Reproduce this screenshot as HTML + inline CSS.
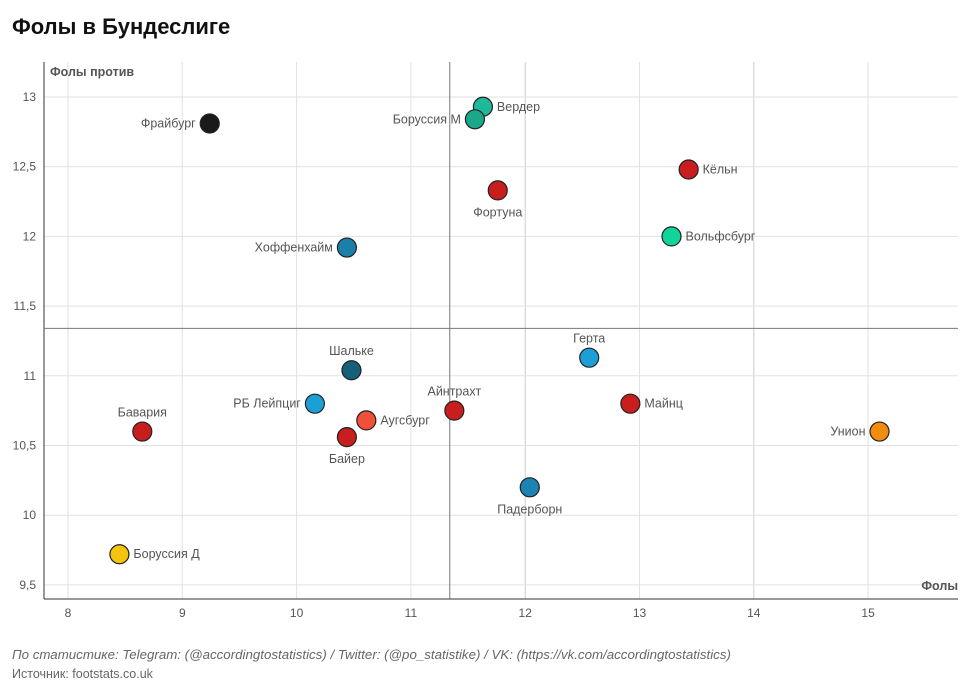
<!DOCTYPE html>
<html><head><meta charset="utf-8"><style>
body{margin:0;background:#fff;font-family:"Liberation Sans","Noto Sans CJK SC",sans-serif;}
#wrap{position:relative;width:980px;height:689px;overflow:hidden}
h1{position:absolute;left:12px;top:14px;margin:0;font-size:22px;font-weight:bold;color:#111}
.foot{position:absolute;left:12px;font-size:13.3px;color:#666}
</style></head><body>
<div id="wrap">
<h1>Фолы в Бундеслиге</h1>
<svg id="chart" width="980" height="689" style="position:absolute;left:0;top:0"></svg>
<div class="foot" style="top:647px;font-style:italic">По статистике: Telegram: (@accordingtostatistics) / Twitter: (@po_statistike) / VK: (https://vk.com/accordingtostatistics)</div>
<div class="foot" style="top:667px;font-size:12.5px">Источник: footstats.co.uk</div>
</div>
<script>
const teams=["Фрайбург","Вердер","Боруссия М","Кёльн","Фортуна","Вольфсбург","Хоффенхайм","Шальке","Герта","Бавария","РБ Лейпциг","Аугсбург","Байер","Айнтрахт","Майнц","Унион","Падерборн","Боруссия Д"];
const fouls=[9.24,11.63,11.56,13.43,11.76,13.28,10.44,10.48,12.56,8.65,10.16,10.61,10.44,11.38,12.92,15.1,12.04,8.45];
const against=[12.81,12.93,12.84,12.48,12.33,12.0,11.92,11.04,11.13,10.6,10.8,10.68,10.56,10.75,10.8,10.6,10.2,9.72];
const colors=["#1a1a1a","#1fb89a","#1aa88a","#c81e1e","#c81e1e","#12d39a","#1b7fa8","#16607a","#1c9fd6","#c81e1e","#1c9fd6","#f0503a","#c81e1e","#c81e1e","#c81e1e","#f28c0f","#1b84b4","#f5c40c"];
const labelPos=["l","r","l","r","b","r","l","t","t","t","l","r","b","t","r","l","b","r"];
const xTicks=[8,9,10,11,12,13,14,15];
const yTicks=[9.5,10,10.5,11,11.5,12,12.5,13];
const meanX=11.34, meanY=11.34;
const L=44,R=958,T=62,B=599;
const X=v=>68+(v-8)*114.3;
const Y=v=>97+(13-v)*139.4;
const svg=document.getElementById('chart');
const NS="http://www.w3.org/2000/svg";
function mk(t,a){const e=document.createElementNS(NS,t);for(const k in a)e.setAttribute(k,a[k]);svg.appendChild(e);return e;}
xTicks.forEach(t=>{const g=mk('line',{x1:X(t),x2:X(t),y1:T,y2:B,stroke:t==12||t==14?'#ccc':'#e2e2e2'});

const tx=mk('text',{x:X(t),y:B+18,'text-anchor':'middle','font-size':12,fill:'#555'});tx.textContent=t;
});
yTicks.forEach(t=>{const g=mk('line',{x1:L,x2:R,y1:Y(t),y2:Y(t),stroke:'#e2e2e2'});

const tx=mk('text',{x:36,y:Y(t)+4,'text-anchor':'end','font-size':12,fill:'#555'});tx.textContent=String(t).replace('.',',');
});
let ax=mk('line',{x1:L,x2:L,y1:T,y2:B,stroke:'#333'});
ax=mk('line',{x1:L,x2:R,y1:B,y2:B,stroke:'#333'});
let m=mk('line',{x1:X(meanX),x2:X(meanX),y1:T,y2:B,stroke:'#777'});
m=mk('line',{x1:L,x2:R,y1:Y(meanY),y2:Y(meanY),stroke:'#777'});
let t1=mk('text',{x:50,y:76,'font-size':12.5,'font-weight':'bold',fill:'#555'});t1.textContent='Фолы против';
t1=mk('text',{x:958,y:590,'text-anchor':'end','font-size':12.5,'font-weight':'bold',fill:'#555'});t1.textContent='Фолы';
teams.forEach((n,i)=>{const cx=X(fouls[i]),cy=Y(against[i]);
const c=mk('circle',{cx,cy,r:9.5,fill:colors[i],stroke:'#222','stroke-width':1.2});

const p=labelPos[i];let a={'font-size':12.5,fill:'#555'};
if(p=='l'){a.x=cx-14;a.y=cy+4;a['text-anchor']='end';}
else if(p=='r'){a.x=cx+14;a.y=cy+4;a['text-anchor']='start';}
else if(p=='t'){a.x=cx;a.y=cy-15;a['text-anchor']='middle';}
else{a.x=cx;a.y=cy+26;a['text-anchor']='middle';}
const tx=mk('text',a);tx.textContent=n;
});
</script>
</body></html>
